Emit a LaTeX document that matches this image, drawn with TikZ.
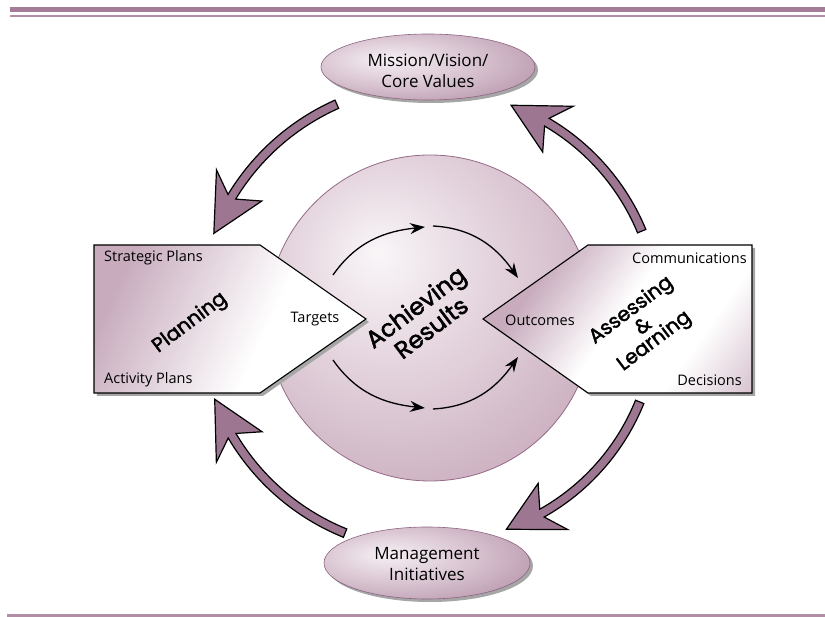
\documentclass[tikz,border=0pt]{standalone}
\usepackage{fontspec}
\setmainfont{Open Sans}
\newfontfamily\geofont{Poppins}[FakeBold=2]
\usetikzlibrary{arrows.meta,shapes.geometric}
\definecolor{arrowc}{RGB}{157,119,145}
\definecolor{linetop}{RGB}{165,124,151}
\definecolor{linethin}{RGB}{178,142,165}
\definecolor{b0}{RGB}{249,246,248}
\definecolor{b1}{RGB}{230,215,224}
\definecolor{b2}{RGB}{198,168,186}
\definecolor{b3}{RGB}{164,123,150}
\definecolor{balledge}{RGB}{150,105,135}
\definecolor{o0}{RGB}{246,240,244}
\definecolor{o1}{RGB}{214,192,206}
\definecolor{o2}{RGB}{162,122,148}
\definecolor{ovaledge}{RGB}{140,100,128}
\definecolor{p1}{RGB}{200,172,190}
\definecolor{p2}{RGB}{178,140,164}
\pgfdeclareradialshading{ballshade}{\pgfpoint{-8bp}{10bp}}{color(0bp)=(b0); color(14bp)=(b1); color(38bp)=(b2); color(56bp)=(b3); color(80bp)=(b3)}
\pgfdeclareradialshading{ovalshade}{\pgfpoint{-10bp}{6bp}}{color(0bp)=(o0); color(20bp)=(o1); color(48bp)=(o2); color(80bp)=(o2)}
\pgfdeclarehorizontalshading{leftpent}{100bp}{color(0bp)=(p1); color(25bp)=(p1); color(40bp)=(p1!55!white); color(58bp)=(white); color(80bp)=(white); color(100bp)=(p1!40!white)}
\pgfdeclarehorizontalshading{rightpent}{100bp}{color(0bp)=(p1); color(30bp)=(p1); color(50bp)=(white); color(68bp)=(white); color(100bp)=(p2)}
\newcommand\cycarrow[4]{%
  \pgfmathsetmacro\an{#2-#3*10}%
  \pgfmathsetmacro\ab{#2-#3*13.3}%
  \pgfmathsetmacro\ro{#4+4.5}%
  \pgfmathsetmacro\ri{#4-4.5}%
  \pgfmathsetmacro\rbo{#4+27.5}%
  \pgfmathsetmacro\rbi{#4-27.5}%
  \filldraw[bigarrow] (#1:\ro) arc[start angle=#1, end angle=\an, radius=\ro]
    -- (\ab:\rbo) -- (#2:#4) -- (\ab:\rbi) -- (\an:\ri)
    arc[start angle=\an, end angle=#1, radius=\ri] -- cycle;}
\begin{document}
\begin{tikzpicture}[x=1pt,y=1pt,
  lbl/.style={font=\fontsize{14.5}{16}\selectfont, inner sep=0pt},
  ovallbl/.style={font=\fontsize{17}{21}\selectfont, align=center, inner sep=0pt},
  biglbl/.style={font=\geofont\fontsize{20}{18}\selectfont, align=center, rotate=37, inner sep=0pt},
  pentagon/.style={draw=black, line width=1.1pt, line join=miter},
  shadow/.style={fill=black!35},
  bigarrow/.style={fill=arrowc, draw=black, line width=1.2pt, line join=miter},
  smallarrow/.style={line width=1.3pt, -{Stealth[length=15pt,width=11pt,inset=5pt]}},
  oval/.style={ellipse, minimum width=214, minimum height=66, inner sep=0pt, shading=ovalshade, draw=ovaledge, line width=0.6pt}
]
\useasboundingbox (-430,-299) rectangle (395,318);
% rules
\fill[linetop] (-420,311) rectangle (395,306);
\fill[linethin] (-420,303) rectangle (395,301);
\fill[linethin] (-423,-296.5) rectangle (395,-299);
% central sphere
\node[circle, minimum size=326, inner sep=0pt, shading=ballshade, draw=balledge, line width=0.8pt] (core) at (0,0) {};
% ovals
\fill[shadow] (1,248) ellipse[x radius=107, y radius=33];
\node[oval] (mission) at (-2,251) {};
\node[ovallbl] (missiontext) at (-2,247) {Mission/Vision/\\Core Values};
\fill[shadow] (0,-248) ellipse[x radius=103, y radius=36];
\node[oval, minimum width=206, minimum height=72] (mgmt) at (-3,-245) {};
\node[ovallbl] (mgmttext) at (-3,-246) {Management\\Initiatives};
% pentagons
\fill[shadow, shift={(3,-3)}] (-336,73) -- (-170,73) -- (-64,-1) -- (-170,-75) -- (-336,-75) -- cycle;
\shadedraw[pentagon, shading=leftpent, shading angle=-25] (-336,73) -- (-170,73) -- (-64,-1) coordinate (plantip) -- (-170,-75) -- (-336,-75) -- cycle;
\fill[shadow, shift={(3,-3)}] (53,-1) -- (158,73) -- (322,73) -- (322,-75) -- (158,-75) -- cycle;
\shadedraw[pentagon, shading=rightpent, shading angle=-35] (53,-1) coordinate (assesstip) -- (158,73) -- (322,73) -- (322,-75) -- (158,-75) -- cycle;
% pentagon texts
\node[lbl, anchor=west] (strat) at (-326,60) {Strategic Plans};
\node[lbl, anchor=west] (activ) at (-326,-62) {Activity Plans};
\node[lbl] (targets) at (-115,-1) {Targets};
\node[biglbl] (planning) at (-240,-5) {Planning};
\node[lbl, anchor=east] (comm) at (317,60) {Communications};
\node[lbl, anchor=east] (decis) at (312,-62) {Decisions};
\node[lbl] (outcomes) at (110,-2) {Outcomes};
\node[biglbl] (assess) at (213,-8) {Assessing\\\&\\Learning};
\node[biglbl, font=\geofont\fontsize{24}{26}\selectfont] (achieve) at (-7,1) {Achieving\\Results};
% small arrows in the sphere
\coordinate (a1s) at (-97,43); \coordinate (a1e) at (-5,91);
\coordinate (a2s) at (3,92);   \coordinate (a2e) at (88,40);
\coordinate (a3s) at (-97,-42); \coordinate (a3e) at (-5,-90);
\coordinate (a4s) at (3,-91);  \coordinate (a4e) at (88,-39);
\draw[smallarrow] (a1s) to[out=55,in=186] (a1e);
\draw[smallarrow] (a2s) to[out=-3,in=125] (a2e);
\draw[smallarrow] (a3s) to[out=-55,in=174] (a3e);
\draw[smallarrow] (a4s) to[out=3,in=-125] (a4e);
% big cycle arrows
\begin{scope}[shift={(2,0)}]
\cycarrow{114}{158.8}{1}{234}
\cycarrow{22.5}{69.6}{1}{227}
\cycarrow{-22}{-70.6}{-1}{224}
\cycarrow{-112}{-159.5}{-1}{232}
\end{scope}
\end{tikzpicture}
\end{document}
